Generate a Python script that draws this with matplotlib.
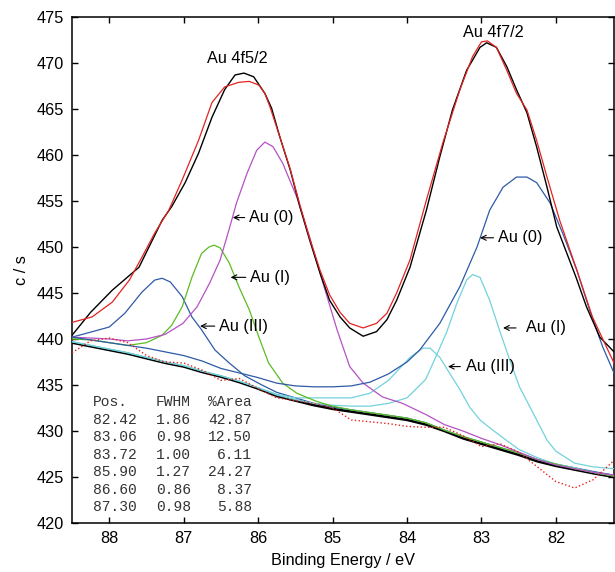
import matplotlib
matplotlib.use('Agg')
import matplotlib.pyplot as plt

plt.rcParams['font.family'] = ['Liberation Sans', 'DejaVu Sans']
plt.rcParams['font.size'] = 11.7

# binding energy grid (eV) for background and residual
be = [88.5, 88.25, 88.0, 87.75, 87.5, 87.25, 87.0, 86.75, 86.5, 86.25,
      86.0, 85.75, 85.5, 85.25, 85.0, 84.75, 84.5, 84.25, 84.0, 83.75,
      83.5, 83.25, 83.0, 82.75, 82.5, 82.25, 82.0, 81.75, 81.5, 81.22]

# background
cps_bg = [439.6, 439.2, 438.8, 438.4, 437.9, 437.4, 437.0, 436.4, 435.9, 435.3,
          434.6, 433.8, 433.3, 432.8, 432.4, 432.1, 431.8, 431.5, 431.2, 430.7,
          430.0, 429.2, 428.6, 428.0, 427.4, 426.7, 426.2, 425.8, 425.4, 425.0]

# residual-like dotted trace
cps_resid = [438.5, 439.8, 440.1, 439.6, 438.2, 437.5, 437.4, 436.6, 435.5, 435.7,
             434.6, 433.6, 433.3, 433.0, 432.5, 431.2, 431.0, 430.8, 430.5, 430.4,
             430.4, 429.5, 428.3, 428.6, 427.7, 426.1, 424.5, 423.8, 424.7, 426.8]

# measured spectrum
be_data = [88.5, 88.25, 87.96, 87.6, 87.29, 87.16, 86.98, 86.8, 86.62, 86.45,
           86.31, 86.19, 86.06, 85.91, 85.82, 85.71, 85.57, 85.44, 85.31, 85.17,
           85.04, 84.9, 84.77, 84.59, 84.41, 84.27, 84.14, 83.96, 83.74, 83.56,
           83.39, 83.2, 83.02, 82.93, 82.8, 82.66, 82.53, 82.39, 82.26, 82.12,
           81.99, 81.73, 81.59, 81.41, 81.22]
cps_data = [440.4, 442.9, 445.3, 447.8, 452.9, 454.4, 457.0, 460.2, 464.1, 467.1,
            468.7, 468.9, 468.5, 466.7, 465.1, 462.0, 458.4, 454.4, 450.8, 447.2,
            444.2, 442.4, 441.2, 440.3, 440.8, 442.1, 444.2, 447.8, 454.0, 459.8,
            464.9, 469.2, 471.7, 472.2, 471.7, 469.6, 467.1, 464.6, 460.9, 456.5,
            452.2, 446.7, 443.5, 440.2, 438.6]

# fit envelope
be_fit = [88.5, 88.23, 87.96, 87.73, 87.56, 87.39, 87.2, 87.02, 86.8, 86.62,
          86.45, 86.26, 86.12, 85.99, 85.91, 85.84, 85.71, 85.57, 85.44, 85.31,
          85.17, 85.04, 84.9, 84.77, 84.59, 84.41, 84.27, 84.14, 83.96, 83.74,
          83.52, 83.29, 83.12, 83.0, 82.92, 82.8, 82.66, 82.53, 82.39, 82.26,
          82.12, 81.95, 81.72, 81.51, 81.32, 81.22]
cps_fit = [441.8, 442.4, 444.0, 446.4, 448.9, 451.5, 454.0, 457.3, 461.6, 465.7,
           467.4, 467.9, 468.0, 467.6, 466.7, 465.2, 462.0, 458.5, 454.6, 451.0,
           447.5, 444.8, 442.9, 441.7, 441.2, 441.7, 442.8, 445.0, 448.6, 455.1,
           461.3, 467.1, 470.7, 472.3, 472.4, 471.7, 469.2, 466.7, 464.9, 461.6,
           457.6, 452.9, 447.5, 442.4, 439.1, 437.4]

# Au(0) 4f7/2 component
be_au0_72 = [88.5, 88.25, 88.0, 87.75, 87.5, 87.25, 87.0, 86.75, 86.5, 86.25,
             86.0, 85.75, 85.5, 85.25, 85.0, 84.75, 84.5, 84.25, 84.0, 83.83,
             83.56, 83.29, 83.06, 82.89, 82.71, 82.53, 82.39, 82.26, 82.08, 81.91,
             81.72, 81.55, 81.37, 81.22]
au0_72 = [440.2, 439.9, 439.6, 439.3, 439.0, 438.6, 438.2, 437.6, 436.8, 436.3,
          435.8, 435.2, 434.9, 434.8, 434.8, 434.9, 435.3, 436.2, 437.5, 438.8,
          441.7, 445.7, 450.0, 454.0, 456.5, 457.6, 457.6, 457.0, 454.8, 451.5,
          447.5, 443.2, 439.1, 436.3]

# Au(I) 4f7/2 component
be_au1_72 = [88.5, 88.25, 88.0, 87.75, 87.5, 87.25, 87.0, 86.75, 86.5, 86.25,
             86.0, 85.75, 85.5, 85.25, 85.0, 84.75, 84.5, 84.25, 84.0, 83.75,
             83.65, 83.47, 83.33, 83.2, 83.12, 83.02, 82.89, 82.76, 82.62, 82.49,
             82.31, 82.12, 82.0, 81.75, 81.5, 81.22]
au1_72 = [439.7, 439.3, 438.9, 438.5, 438.0, 437.5, 437.1, 436.5, 436.0, 435.4,
          434.7, 433.9, 433.4, 433.0, 432.8, 432.7, 432.7, 433.0, 433.6, 435.6,
          437.4, 440.7, 443.9, 446.4, 447.0, 446.7, 444.2, 441.0, 437.7, 434.8,
          432.0, 429.0, 427.8, 426.5, 426.1, 425.9]

# Au(III) 4f7/2 component
be_au3_72 = [88.5, 88.25, 88.0, 87.75, 87.5, 87.25, 87.0, 86.75, 86.5, 86.25,
             86.0, 85.75, 85.5, 85.25, 85.0, 84.75, 84.5, 84.25, 83.96, 83.79,
             83.69, 83.56, 83.43, 83.29, 83.16, 83.02, 82.85, 82.5, 82.25, 82.0,
             81.75, 81.5, 81.22]
au3_72 = [439.7, 439.3, 438.9, 438.5, 438.0, 437.5, 437.1, 436.5, 436.0, 435.4,
          434.7, 434.0, 433.6, 433.6, 433.6, 433.6, 434.1, 435.5, 438.0, 439.0,
          439.0, 438.0, 436.3, 434.5, 432.6, 431.2, 430.1, 428.0, 427.1, 426.4,
          426.0, 425.5, 425.1]

# Au(0) 4f5/2 component
be_au0_52 = [88.5, 88.25, 88.0, 87.75, 87.5, 87.25, 87.01, 86.82, 86.65, 86.51,
             86.38, 86.29, 86.15, 86.02, 85.91, 85.8, 85.67, 85.48, 85.31, 85.13,
             84.94, 84.77, 84.59, 84.33, 84.06, 83.75, 83.5, 83.25, 83.0, 82.75,
             82.5, 82.25, 82.0, 81.75, 81.5, 81.22]
au0_52 = [440.2, 440.1, 440.0, 439.8, 440.0, 440.5, 441.7, 443.5, 446.1, 448.6,
          452.2, 454.8, 458.0, 460.5, 461.4, 460.9, 459.1, 455.4, 451.1, 446.1,
          441.0, 437.0, 435.2, 433.7, 433.0, 431.8, 430.7, 430.0, 429.2, 428.5,
          427.7, 426.9, 426.3, 425.9, 425.5, 425.2]

# Au(I) 4f5/2 component
be_au1_52 = [88.5, 88.25, 88.0, 87.75, 87.5, 87.29, 87.16, 87.02, 86.89, 86.76,
             86.66, 86.59, 86.51, 86.39, 86.26, 86.12, 85.99, 85.86, 85.67, 85.48,
             85.21, 85.0, 84.75, 84.5, 84.25, 84.0, 83.75, 83.5, 83.25, 83.0,
             82.75, 82.5, 82.25, 82.0, 81.75, 81.5, 81.22]
au1_52 = [440.0, 439.9, 439.6, 439.3, 439.6, 440.4, 441.5, 443.5, 446.7, 449.3,
          450.0, 450.2, 449.9, 448.3, 445.7, 443.2, 440.2, 437.4, 435.2, 434.1,
          433.2, 432.7, 432.3, 432.0, 431.7, 431.4, 430.9, 430.1, 429.4, 428.8,
          428.2, 427.6, 426.9, 426.4, 425.9, 425.5, 425.1]

# Au(III) 4f5/2 component
be_au3_52 = [88.5, 88.27, 88.0, 87.79, 87.56, 87.39, 87.29, 87.18, 87.02, 86.89,
             86.76, 86.58, 86.39, 86.18, 85.95, 85.75, 85.5, 85.25, 85.0, 84.75,
             84.5, 84.25, 84.0, 83.75, 83.5, 83.25, 83.0, 82.75, 82.5, 82.25,
             82.0, 81.75, 81.5, 81.22]
au3_52 = [440.2, 440.7, 441.3, 442.8, 445.1, 446.4, 446.6, 446.2, 444.6, 442.4,
          441.0, 438.8, 437.4, 436.0, 435.0, 434.2, 433.6, 433.0, 432.6, 432.3,
          432.0, 431.7, 431.4, 430.9, 430.1, 429.4, 428.8, 428.2, 427.6, 426.9,
          426.4, 426.0, 425.6, 425.2]

# fit table
tab_pos = ['Pos.', '82.42', '83.06', '83.72', '85.90', '86.60', '87.30']
tab_fwhm = ['FWHM', '1.86', '0.98', '1.00', '1.27', '0.86', '0.98']
tab_area = ['%Area', '42.87', '12.50', '6.11', '24.27', '8.37', '5.88']

c_red = '#e42320'
c_blue = '#2f5aa6'
c_cyan = '#72d2da'
c_green = '#5cbc22'
c_mag = '#b552c4'

fig = plt.figure(figsize=(6.15, 5.72), dpi=100)
ax = fig.add_axes([0.1171, 0.0857, 0.8813, 0.8846])

ax.plot(be, cps_bg, color='black', lw=1.8, zorder=2)
ax.plot(be_au3_52, au3_52, color=c_blue, lw=0.9, zorder=3)
ax.plot(be_au3_72, au3_72, color=c_cyan, lw=0.9, zorder=3)
ax.plot(be_au1_72, au1_72, color=c_cyan, lw=0.9, zorder=3)
ax.plot(be_au1_52, au1_52, color=c_green, lw=0.9, zorder=3)
ax.plot(be_au0_52, au0_52, color=c_mag, lw=0.9, zorder=3)
ax.plot(be_au0_72, au0_72, color=c_blue, lw=0.9, zorder=3)
ax.plot(be, cps_resid, color=c_red, lw=1.0, ls=':', zorder=3)
ax.plot(be_data, cps_data, color='black', lw=1.0, zorder=4)
ax.plot(be_fit, cps_fit, color=c_red, lw=0.9, zorder=5)

ax.set_xlim(88.5, 81.22)
ax.set_ylim(420, 475)
ax.set_xticks([88, 87, 86, 85, 84, 83, 82])
ax.set_yticks(range(420, 476, 5))
ax.tick_params(direction='in', top=True, right=True, length=4, width=1, pad=6)
for s in ax.spines.values():
    s.set_linewidth(1.1)

ax.set_xlabel('Binding Energy / eV', labelpad=5)
ax.set_ylabel('c / s', labelpad=5)

ax.text(86.285, 470.5, 'Au 4f5/2', ha='center', va='center')
ax.text(82.836, 473.3, 'Au 4f7/2', ha='center', va='center')

# peak labels with arrows: (text, arrow tip x, text x, y, gap)
labels = [('Au (0)', 86.34, 86.125, 453.2, 1),
          ('Au (I)', 86.37, 86.11, 446.7, 1),
          ('Au (III)', 86.78, 86.527, 441.4, 1),
          ('Au (0)', 83.02, 82.782, 451.0, 1),
          ('Au (I)', 82.71, 82.406, 441.2, 5),
          ('Au (III)', 83.45, 83.21, 437.0, 2)]
for txt, tip, tx, yy, gap in labels:
    ax.annotate(txt, xy=(tip, yy), xytext=(tx, yy), ha='left', va='center',
                arrowprops=dict(arrowstyle='->', lw=0.8, color='black',
                                shrinkA=gap, shrinkB=0, mutation_scale=9))

for i in range(len(tab_pos)):
    yy = 433.12 - i * 1.902
    ax.text(88.218, yy, tab_pos[i], family='Liberation Mono', fontsize=10.5,
            ha='left', va='center', color='#333333')
    ax.text(87.372, yy, tab_fwhm[i], family='Liberation Mono', fontsize=10.5,
            ha='left', va='center', color='#333333')
    ax.text(86.084, yy, tab_area[i], family='Liberation Mono', fontsize=10.5,
            ha='right', va='center', color='#333333')

fig.savefig('out.png', dpi=100)
